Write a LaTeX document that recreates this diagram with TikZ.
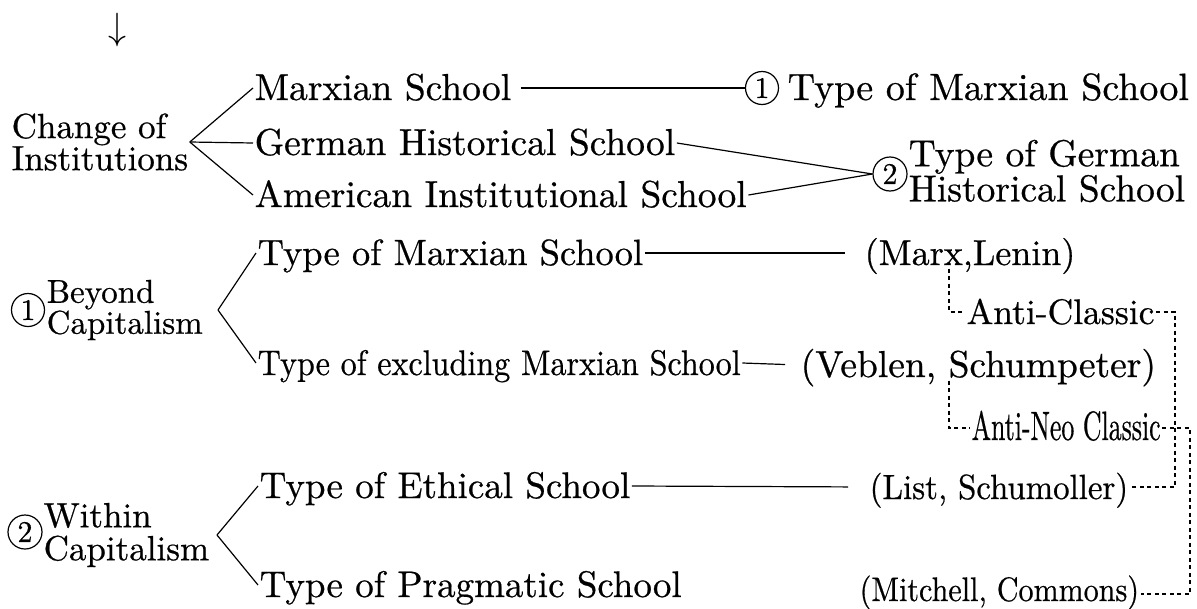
\documentclass[tikz,border=0pt]{standalone}
\usepackage{graphicx}
\usepackage{fontspec}
\setmainfont{lmroman10-regular.otf}[FakeBold=0.6]
\begin{document}
\begin{tikzpicture}[x=1pt,y=-1pt,
  txt/.style={inner sep=1.5pt, text height=26pt, text depth=2pt, anchor=base west},
  mtxt/.style={inner sep=1.5pt, align=left, anchor=west},
  cnum/.style={circle, draw, line width=1.2pt, inner sep=0pt, minimum size=#1, font=\fontsize{30}{30}\selectfont},
  ln/.style={line width=1.2pt},
  dl/.style={line width=1.1pt, dash pattern=on 4pt off 3.5pt},
  fs/.style={font=\fontsize{#1}{#1}\selectfont}
]
\useasboundingbox (0,0) rectangle (1197,608);

% top arrow
\node[fs=10, inner sep=0pt] (arr) at (117,30) {\scalebox{3.6}[3.8]{$\downarrow$}};

% section 1
\node[mtxt, font=\fontsize{35}{28}\selectfont] (chg) at (10,142) {Change of\\Institutions};
\node[txt, fs=37.5] (ms) at (253,100) {Marxian School};
\node[txt, fs=37.5] (gh) at (253,155) {German Historical School};
\node[txt, fs=37.5] (ai) at (253,207) {American Institutional School};
\node[cnum=33] (n1) at (762,88) {1};
\node[txt, fs=38] (tm) at (786,100) {Type of Marxian School};
\node[cnum=34] (n2) at (890,174) {2};
\node[mtxt, font=\fontsize{37.5}{34}\selectfont] (tg) at (907,171) {Type of German\\Historical School};

\draw[ln] (chg.east) -- (ms.west);
\draw[ln] (chg.east) -- (gh.west);
\draw[ln] (chg.east) -- (ai.west);
\draw[ln, shorten <=8pt] (ms.east) -- (n1.west);
\draw[ln] (gh.east) -- (n2.west);
\draw[ln] (ai.east) -- (n2.west);

% section 2
\node[cnum=33] (n3) at (28,310) {1};
\node[mtxt, font=\fontsize{33}{31}\selectfont] (bc) at (45,310) {Beyond\\Capitalism};
\coordinate (b1) at (218,310);
\node[txt, fs=36.5] (tm2) at (256,265) {Type of Marxian School};
\node[txt, fs=36] (ml) at (863,265) {(Marx,Lenin)};
\node[txt, fs=35.5] (te) at (256,375) {\scalebox{0.905}[1]{Type of excluding Marxian School}};
\node[txt, fs=37.5] (vs) at (799,377) {(Veblen, Schumpeter)};
\draw[ln] (b1) -- (tm2.west);
\draw[ln] (b1) -- (te.west);
\draw[ln, shorten >=18pt] (tm2.east) -- (ml.west);
\draw[ln, shorten >=14pt] (te.east) -- (vs.west);

\node[txt, fs=35.5] (ac) at (965,324) {Anti-Classic};
\node[txt, fs=41] (an) at (970,440) {\scalebox{0.63}[1]{Anti-Neo Classic}};

% section 3
\node[cnum=34] (n4) at (25,532) {2};
\node[mtxt, font=\fontsize{35}{33}\selectfont] (wc) at (42,535) {Within\\Capitalism};
\coordinate (b2) at (217,535);
\node[txt, fs=37] (te2) at (258,498) {Type of Ethical School};
\node[txt, fs=35] (ls) at (868,499) {\scalebox{0.94}[1]{(List, Schumoller)}};
\node[txt, fs=37] (tp) at (258,597) {Type of Pragmatic School};
\node[txt, fs=34, text height=16pt] (mc) at (858,601) {\scalebox{0.885}[1]{(Mitchell, Commons)}};
\draw[ln] (b2) -- (te2.west);
\draw[ln] (b2) -- (tp.west);
\draw[ln, shorten >=20pt] (te2.east) -- (ls.west);

% dashed connectors
\coordinate (k1) at (949,0);
\coordinate (k2) at (1175,0);
\coordinate (k3) at (1190,0);
\draw[dl] (ml.south -| k1) |- (ac.west);
\draw[dl] (ac.east) -| (k2 |- ls.east) -- (ls.east);
\draw[dl] (vs.south -| k1) |- (an.west);
\draw[dl] (an.east) -| (k3 |- mc.east) -- (mc.east);
\end{tikzpicture}
\end{document}
